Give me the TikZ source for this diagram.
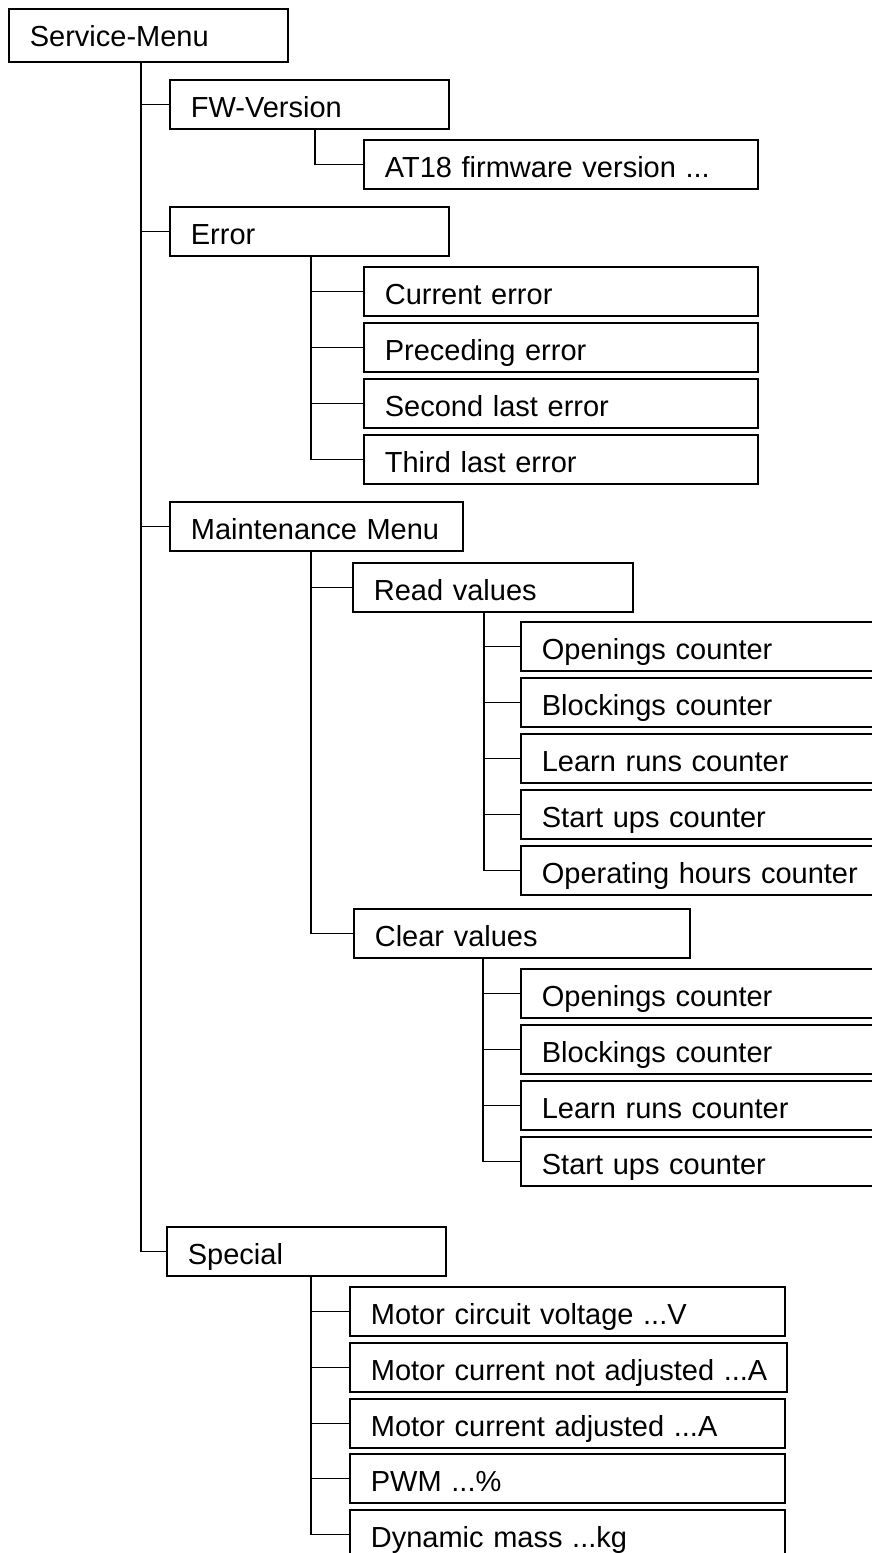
\documentclass[tikz,border=0pt]{standalone}
\usepackage{fontspec}
\setmainfont{Liberation Sans}
\usepackage{tikz}

\begin{document}
\begin{tikzpicture}
[-,line width=1.7pt,x=1pt,y=-1pt,%
  every node/.style={draw,anchor=north west,inner xsep=0pt,inner ysep=0pt,%
    align=left,text height=38pt,text depth=11pt,execute at begin node={\hspace*{21pt}}},%
  box/.style={text width=#1pt}]
\fontsize{29}{35}\selectfont
\useasboundingbox (0,0) rectangle (872,1553);
\clip (0,0) rectangle (872,1553);
% level 0
\node[box=279,text depth=15pt] (sm) at (8,8) {Service-Menu};
% FW-Version
\node[box=279] (fw) at (169,79) {FW-Version};
\node[box=394] (at) at (363,139) {AT18 firmware version ...};
% Error
\node[box=279] (err) at (169,206) {Error};
\node[box=394] (cur) at (363,266) {Current error};
\node[box=394] (pre) at (363,322) {Preceding error};
\node[box=394] (sec) at (363,378) {Second last error};
\node[box=394] (thi) at (363,434) {Third last error};
% Maintenance Menu
\node[box=293] (mm) at (169,501) {Maintenance Menu};
\node[box=280] (rv) at (352,562) {Read values};
\node[box=360] (rv1) at (520,621) {Openings counter};
\node[box=360] (rv2) at (520,677) {Blockings counter};
\node[box=360] (rv3) at (520,733) {Learn runs counter};
\node[box=360] (rv4) at (520,789) {Start ups counter};
\node[box=360] (rv5) at (520,845) {Operating hours counter};
\node[box=336] (cv) at (353,908) {Clear values};
\node[box=360] (cv1) at (520,968) {Openings counter};
\node[box=360] (cv2) at (520,1024) {Blockings counter};
\node[box=360] (cv3) at (520,1080) {Learn runs counter};
\node[box=360] (cv4) at (520,1136) {Start ups counter};
% Special
\node[box=279] (sp) at (166,1226) {Special};
\node[box=435] (sp1) at (349,1286) {Motor circuit voltage ...V};
\node[box=437] (sp2) at (349,1342) {Motor current not adjusted ...A};
\node[box=435] (sp3) at (349,1398) {Motor current adjusted ...A};
\node[box=435] (sp4) at (349,1453) {PWM ...\%};
\node[box=435] (sp5) at (349,1509) {Dynamic mass ...kg};
% connectors
\draw ([xshift=133pt]sm.south west) |- (fw.west);
\draw ([xshift=133pt]sm.south west) |- (err.west);
\draw ([xshift=133pt]sm.south west) |- (mm.west);
\draw ([xshift=133pt]sm.south west) |- (sp.west);
\draw ([xshift=146pt]fw.south west) |- (at.west);
\draw ([xshift=142pt]err.south west) |- (cur.west);
\draw ([xshift=142pt]err.south west) |- (pre.west);
\draw ([xshift=142pt]err.south west) |- (sec.west);
\draw ([xshift=142pt]err.south west) |- (thi.west);
\draw ([xshift=142pt]mm.south west) |- (rv.west);
\draw ([xshift=142pt]mm.south west) |- (cv.west);
\draw ([xshift=132pt]rv.south west) |- (rv1.west);
\draw ([xshift=132pt]rv.south west) |- (rv2.west);
\draw ([xshift=132pt]rv.south west) |- (rv3.west);
\draw ([xshift=132pt]rv.south west) |- (rv4.west);
\draw ([xshift=132pt]rv.south west) |- (rv5.west);
\draw ([xshift=130pt]cv.south west) |- (cv1.west);
\draw ([xshift=130pt]cv.south west) |- (cv2.west);
\draw ([xshift=130pt]cv.south west) |- (cv3.west);
\draw ([xshift=130pt]cv.south west) |- (cv4.west);
\draw ([xshift=145pt]sp.south west) |- (sp1.west);
\draw ([xshift=145pt]sp.south west) |- (sp2.west);
\draw ([xshift=145pt]sp.south west) |- (sp3.west);
\draw ([xshift=145pt]sp.south west) |- (sp4.west);
\draw ([xshift=145pt]sp.south west) |- (sp5.west);
\end{tikzpicture}
\end{document}
